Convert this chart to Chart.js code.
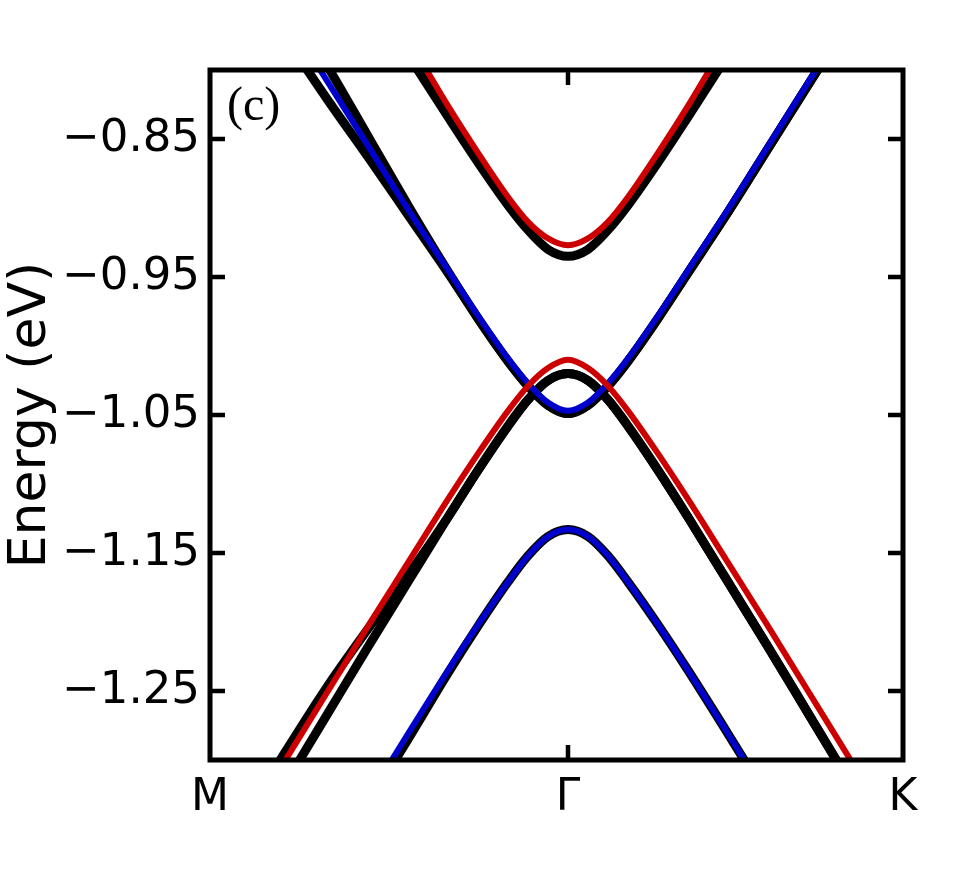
<!DOCTYPE html>
<html>
<head>
<meta charset="utf-8">
<script src="https://cdn.jsdelivr.net/npm/chart.js@4.4.1/dist/chart.umd.min.js"></script>
<style>
    html, body { margin: 0; padding: 0; background: #fff; }
    #wrap { width: 972px; height: 888px; position: relative; }
</style>
</head>
<body>
<div id="wrap"><canvas id="chart1"></canvas></div>
<script>
// k path: M (left) .. Gamma (0) .. K (right)
var kGrid = [-0.36, -0.32, -0.28, -0.24, -0.20, -0.16, -0.12, -0.09, -0.06, -0.04, -0.02, 0,
              0.02, 0.04, 0.06, 0.09, 0.12, 0.16, 0.20, 0.24, 0.28, 0.32, 0.36];
var kTicks = [-0.358, 0, 0.335];
var kLabels = ['M', 'Γ', 'K'];
var eTicks = [-1.25, -1.15, -1.05, -0.95, -0.85];

// red / blue bands
var redCB = [-0.523, -0.574, -0.626, -0.677, -0.727, -0.777, -0.826, -0.860, -0.892, -0.910, -0.922, -0.927,
             -0.922, -0.910, -0.892, -0.860, -0.826, -0.777, -0.727, -0.677, -0.626, -0.574, -0.523];
var redVB = [-1.391, -1.344, -1.297, -1.250, -1.203, -1.157, -1.111, -1.078, -1.047, -1.029, -1.016, -1.010,
             -1.016, -1.029, -1.047, -1.078, -1.111, -1.157, -1.203, -1.250, -1.297, -1.344, -1.391];
var blueUp = [-0.671, -0.717, -0.763, -0.809, -0.855, -0.901, -0.945, -0.978, -1.009, -1.027, -1.041, -1.047,
              -1.041, -1.027, -1.009, -0.978, -0.945, -0.901, -0.855, -0.809, -0.763, -0.717, -0.671];
var blueLow = [-1.518, -1.470, -1.423, -1.375, -1.328, -1.281, -1.235, -1.202, -1.171, -1.152, -1.138, -1.133,
               -1.138, -1.152, -1.171, -1.202, -1.235, -1.281, -1.328, -1.375, -1.423, -1.470, -1.518];

// black bands
var blackCB = [-0.555, -0.602, -0.649, -0.696, -0.743, -0.789, -0.834, -0.867, -0.898, -0.916, -0.930, -0.935,
               -0.930, -0.916, -0.898, -0.867, -0.834, -0.789, -0.743, -0.696, -0.649, -0.602, -0.555];
var blackVB1 = [-1.411, -1.362, -1.314, -1.266, -1.218, -1.171, -1.124, -1.090, -1.058, -1.039, -1.025, -1.020,
                -1.025, -1.039, -1.058, -1.090, -1.124, -1.171, -1.218, -1.266, -1.314, -1.362, -1.411];
var blackVB2 = [-1.384, -1.337, -1.291, -1.246, -1.205, -1.166, -1.124, -1.090, -1.058, -1.039, -1.025, -1.020,
                -1.025, -1.039, -1.058, -1.090, -1.124, -1.171, -1.218, -1.266, -1.314, -1.362, -1.411];
var blackUp1 = [-0.687, -0.733, -0.779, -0.822, -0.863, -0.905, -0.947, -0.980, -1.011, -1.029, -1.043, -1.049,
                -1.043, -1.029, -1.011, -0.980, -0.947, -0.903, -0.857, -0.811, -0.765, -0.719, -0.673];
var blackUp2 = [-0.659, -0.705, -0.751, -0.798, -0.848, -0.898, -0.946, -0.980, -1.011, -1.029, -1.043, -1.049,
                -1.043, -1.029, -1.011, -0.980, -0.947, -0.903, -0.857, -0.811, -0.765, -0.719, -0.673];
var blackLow = [-1.522, -1.474, -1.427, -1.379, -1.332, -1.285, -1.237, -1.203, -1.171, -1.152, -1.138, -1.133,
                -1.138, -1.152, -1.171, -1.202, -1.235, -1.281, -1.328, -1.375, -1.423, -1.470, -1.518];

function pts(vals) {
    return kGrid.map(function (k, i) { return { x: k, y: vals[i] }; });
}

function band(vals, color, width, order) {
    return {
        data: pts(vals),
        borderColor: color,
        borderWidth: width,
        pointRadius: 0,
        cubicInterpolationMode: 'monotone',
        fill: false,
        clip: 0,
        order: order,
    };
}

var frame = {
    id: 'frame',
    afterDraw: function (chart) {
        var ctx = chart.ctx;
        var a = chart.chartArea;
        var ys = chart.scales.y;
        var xs = chart.scales.x;
        ctx.save();
        ctx.strokeStyle = '#000';
        ctx.lineCap = 'butt';
        ctx.lineWidth = 4.5;
        eTicks.forEach(function (v) {
            var py = ys.getPixelForValue(v);
            ctx.beginPath();
            ctx.moveTo(a.left, py); ctx.lineTo(a.left + 15, py);
            ctx.moveTo(a.right, py); ctx.lineTo(a.right - 15, py);
            ctx.stroke();
        });
        var gx = xs.getPixelForValue(0);
        ctx.beginPath();
        ctx.moveTo(gx, a.bottom); ctx.lineTo(gx, a.bottom - 15);
        ctx.moveTo(gx, a.top); ctx.lineTo(gx, a.top + 15);
        ctx.stroke();
        ctx.lineWidth = 5;
        ctx.strokeRect(a.left, a.top, a.right - a.left, a.bottom - a.top);
        ctx.fillStyle = '#000';
        ctx.font = '48px "Liberation Serif"';
        ctx.textAlign = 'left';
        ctx.textBaseline = 'alphabetic';
        ctx.fillText('(c)', a.left + 17, a.top + 50);
        ctx.restore();
    }
};

var chart1 = new Chart(document.getElementById('chart1'), {
    type: 'line',
    data: {
        datasets: [
            band(redCB, '#cc0000', 6, 0),
            band(redVB, '#cc0000', 6, 0),
            band(blueUp, '#0000cc', 6, 0),
            band(blueLow, '#0000cc', 6, 0),
            band(blackCB, '#000000', 9, 1),
            band(blackVB1, '#000000', 9, 1),
            band(blackVB2, '#000000', 9, 1),
            band(blackUp1, '#000000', 9, 1),
            band(blackUp2, '#000000', 9, 1),
            band(blackLow, '#000000', 9, 1),
        ],
    },
    options: {
        responsive: true,
        maintainAspectRatio: false,
        animation: false,
        events: [],
        layout: { padding: { top: 70, right: 69, bottom: 0, left: 0 } },
        plugins: { legend: { display: false }, tooltip: { enabled: false } },
        scales: {
            x: {
                type: 'linear',
                min: -0.358,
                max: 0.335,
                grid: { display: false, drawTicks: false },
                border: { display: false },
                afterBuildTicks: function (scale) {
                    scale.ticks = kTicks.map(function (v) { return { value: v }; });
                },
                afterFit: function (scale) { scale.height = 128; },
                ticks: {
                    autoSkip: false,
                    maxRotation: 0,
                    padding: 12,
                    color: '#000',
                    font: { family: '"DejaVu Sans"', size: 44 },
                    callback: function (v) { return kLabels[kTicks.indexOf(v)]; },
                },
            },
            y: {
                type: 'linear',
                min: -1.30,
                max: -0.80,
                grid: { display: false, drawTicks: false },
                border: { display: false },
                afterBuildTicks: function (scale) {
                    scale.ticks = eTicks.map(function (v) { return { value: v }; });
                },
                afterFit: function (scale) { scale.width = 210; },
                title: {
                    display: true,
                    text: 'Energy (eV)',
                    color: '#000',
                    padding: 0,
                    font: { family: '"DejaVu Sans"', size: 52 },
                },
                ticks: {
                    padding: 10,
                    color: '#000',
                    font: { family: '"DejaVu Sans"', size: 45 },
                    callback: function (v) { return '\u2212' + Math.abs(v).toFixed(2); },
                },
            },
        },
    },
    plugins: [frame],
});
</script>
</body>
</html>
